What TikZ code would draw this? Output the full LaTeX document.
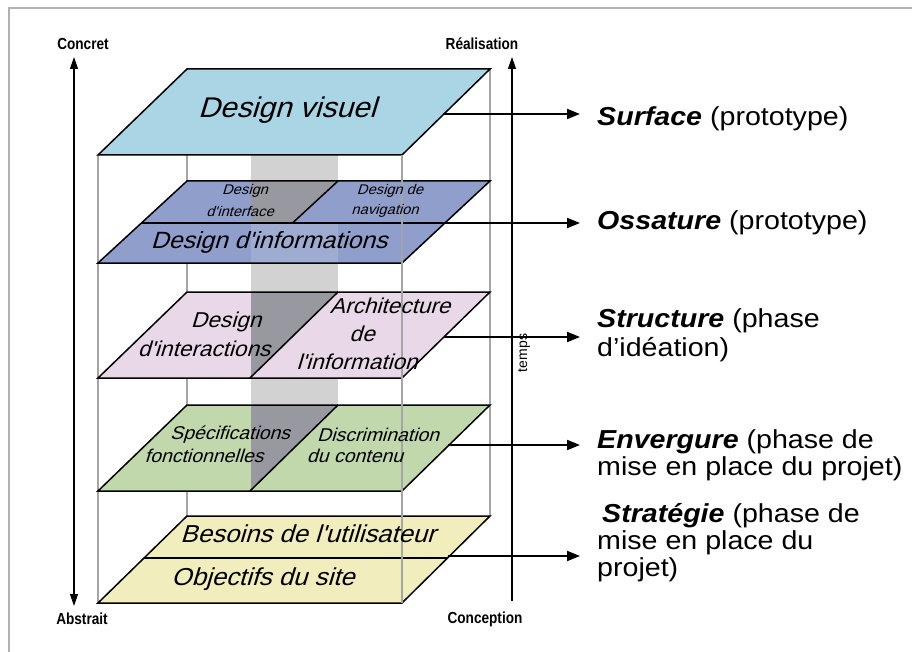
\documentclass[tikz,border=0pt]{standalone}
\usepackage{fontspec}
\setmainfont{Liberation Sans}
\newfontfamily\labf[FakeStretch=1.1]{Liberation Sans}
\newfontfamily\axf[FakeStretch=0.85]{Liberation Sans}
\newfontfamily\layf[FakeStretch=1.05,FakeSlant=0.3]{Liberation Sans}
\usetikzlibrary{arrows.meta}
\definecolor{cvis}{RGB}{170,213,228}
\definecolor{cblue}{RGB}{143,158,202}
\definecolor{cpink}{RGB}{232,216,232}
\definecolor{cgreen}{RGB}{192,216,172}
\definecolor{cyel}{RGB}{242,237,188}
\definecolor{cband}{RGB}{210,210,210}
\definecolor{cdark}{RGB}{152,152,160}
\definecolor{cframe}{RGB}{165,165,165}
\definecolor{cborder}{RGB}{178,178,178}
\begin{document}
\begin{tikzpicture}[x=1pt,y=-1pt,
  layer/.style={draw=black, line width=1.5pt, line join=miter},
  frameline/.style={draw=cframe, line width=1.2pt},
  arr/.style={-{Triangle[length=13pt,width=10pt]}, line width=2pt},
  axarr/.style={-{Triangle[length=12pt,width=8pt]}, line width=1.2pt},
  axlab/.style={font=\axf\bfseries\fontsize{16}{18}\selectfont, inner sep=0pt},
  rlab/.style={font=\labf\fontsize{26}{30}\selectfont, inner sep=0pt, anchor=base west},
  lt/.style={font=\layf\fontsize{#1}{#1}\selectfont, inner sep=0pt}
]
\useasboundingbox (0,0) rectangle (912,652);
\fill[white] (0,0) rectangle (912,652);
% outer frame
\draw[cborder, line width=2.5pt] (9,652) -- (9,8) -- (912,8);

% grey band
\fill[cband] (251,155) rectangle (338,491);

% back frame lines
\draw[frameline] (187,69) -- (187,516);
\draw[frameline] (490,69) -- (490,516);
\draw[frameline] (98,155) -- (98,603);

% layer 1 : surface
\fill[cvis] (187,69) -- (490,69) -- (402,155) -- (98,155) -- cycle;
\draw[layer] (187,69) -- (490,69) -- (402,155) -- (98,155) -- cycle;

% layer 2 : ossature
\fill[cblue] (187,181) -- (490,181) -- (402,263) -- (98,263) -- cycle;
\fill[cdark] (251,181) -- (338,181) -- (292.5,223) -- (251,223) -- cycle;
\fill[white, opacity=0.15] (251,223) rectangle (338,263);
\draw[layer] (187,181) -- (490,181) -- (402,263) -- (98,263) -- cycle;
\draw[layer] (141.4,223) -- (445.4,223);
\draw[layer] (338,181) -- (292.5,223);

% layer 3 : structure
\fill[cpink] (187,292) -- (490,292) -- (402,378) -- (98,378) -- cycle;
\fill[cdark] (251,292) -- (338,292) -- (250,378) -- (251,378) -- cycle;
\draw[layer] (187,292) -- (490,292) -- (402,378) -- (98,378) -- cycle;
\draw[layer] (338,292) -- (250,378);

% layer 4 : envergure
\fill[cgreen] (187,405) -- (490,405) -- (402,491) -- (98,491) -- cycle;
\fill[cdark] (251,405) -- (338,405) -- (250,491) -- (251,491) -- cycle;
\draw[layer] (187,405) -- (490,405) -- (402,491) -- (98,491) -- cycle;
\draw[layer] (338,405) -- (250,491);

% layer 5 : strategie
\fill[cyel] (187,516) -- (490,516) -- (402,603) -- (98,603) -- cycle;
\draw[layer] (187,516) -- (490,516) -- (402,603) -- (98,603) -- cycle;
\draw[layer] (144,558) -- (448,558);

% front right frame line
\draw[frameline] (402,155) -- (402,603);

% layer texts
\node[lt=28.5] (dv) at (287,110) {Design visuel};
\node[lt=14] (di1) at (245,191) {Design};
\node[lt=14] (di2) at (240,211) {d'interface};
\node[lt=14] (dn1) at (390,191) {Design de};
\node[lt=14] (dn2) at (385,211) {navigation};
\node[lt=23.5] (dinf) at (269,242) {Design d'informations};
\node[lt=21.5] (dx1) at (226,322) {Design};
\node[lt=21.5] (dx2) at (204,349) {d'interactions};
\node[lt=21.5] (ai1) at (390,306) {Architecture};
\node[lt=21.5] (ai2) at (362,334) {de};
\node[lt=21.5] (ai3) at (357,362) {l'information};
\node[lt=18.5] (sf1) at (230,435) {Spécifications};
\node[lt=18.5] (sf2) at (204,456) {fonctionnelles};
\node[lt=18.5] (dc1) at (378,435) {Discrimination};
\node[lt=18.5] (dc2) at (355,456) {du contenu};
\node[lt=24.5] (bu) at (308,534) {Besoins de l'utilisateur};
\node[lt=24.5] (os) at (263,579) {Objectifs du site};

% axes
\node[axlab] (concret) at (83,44) {Concret};
\node[axlab] (abstrait) at (82,619) {Abstrait};
\node[axlab] (real) at (482,44) {Réalisation};
\node[axlab] (conc) at (485,619) {Conception};
\coordinate (ltop) at (74,57);
\coordinate (lbot) at (74,606);
\draw[axarr, {Triangle[length=12pt,width=8pt]}-{Triangle[length=12pt,width=8pt]}] (lbot) -- (ltop);
\coordinate (rtop) at (512,57);
\coordinate (rbot) at (512,601);
\draw[axarr] (rbot) -- (rtop);
\node[font=\fontsize{14}{16}\selectfont, rotate=90, inner sep=0pt] (temps) at (524,353) {temps};

% arrows to labels
\coordinate (s1) at (443,114); \coordinate (e1) at (580,114);
\coordinate (s2) at (445,223); \coordinate (e2) at (580,223);
\coordinate (s3) at (444,337); \coordinate (e3) at (580,337);
\coordinate (s4) at (448,445); \coordinate (e4) at (580,445);
\coordinate (s5) at (448,556); \coordinate (e5) at (580,556);
\draw[arr] (s1) -- (e1);
\draw[arr] (s2) -- (e2);
\draw[arr] (s3) -- (e3);
\draw[arr] (s4) -- (e4);
\draw[arr] (s5) -- (e5);

% right labels
\node[rlab] (surf) at (597,126) {\textbf{\textit{Surface}} (prototype)};
\node[rlab] (oss) at (597,230) {\textbf{\textit{Ossature}} (prototype)};
\node[rlab] (str1) at (597,327) {\textbf{\textit{Structure}} (phase};
\node[rlab] (str2) at (597,356) {d’idéation)};
\node[rlab] (env1) at (597,448) {\textbf{\textit{Envergure}} (phase de};
\node[rlab] (env2) at (597,475) {mise en place du projet)};
\node[rlab] (stg1) at (602,522) {\textbf{\textit{Stratégie}} (phase de};
\node[rlab] (stg2) at (597,549) {mise en place du};
\node[rlab] (stg3) at (597,576) {projet)};
\end{tikzpicture}
\end{document}
